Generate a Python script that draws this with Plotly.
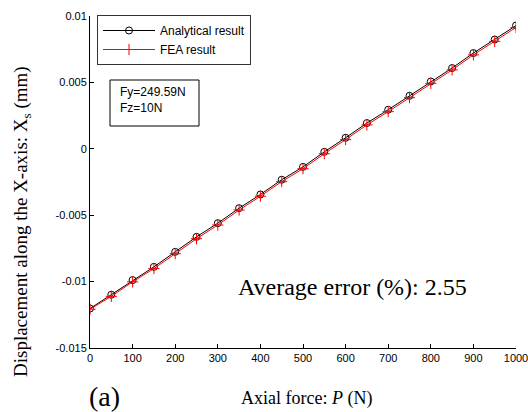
import plotly.graph_objects as go

# Axial force P (N)
axial_force = [0, 50, 100, 150, 200, 250, 300, 350, 400, 450, 500,
               550, 600, 650, 700, 750, 800, 850, 900, 950, 1000]

# Displacement along the X-axis, X_s (mm)
analytical = [-0.01203, -0.01099, -0.00989, -0.00889, -0.00776, -0.00663,
              -0.00560, -0.00447, -0.00344, -0.00233, -0.00136, -0.00023,
              0.00083, 0.00194, 0.00294, 0.00399, 0.00507, 0.00608,
              0.00721, 0.00823, 0.00928]
fea = [-0.01208, -0.01111, -0.01002, -0.00902, -0.00790, -0.00677,
       -0.00574, -0.00461, -0.00357, -0.00247, -0.00150, -0.00037,
       0.00069, 0.00180, 0.00280, 0.00385, 0.00493, 0.00594,
       0.00707, 0.00809, 0.00914]

x_ticks = [0, 100, 200, 300, 400, 500, 600, 700, 800, 900, 1000]
y_ticks = [-0.015, -0.01, -0.005, 0, 0.005, 0.01]
y_tick_text = ["-0.015", "-0.01", "-0.005", "0", "0.005", "0.01"]

SANS = "Liberation Sans, Arial, sans-serif"
SERIF = "Liberation Serif, Times New Roman, serif"

# plot area in pixels
W, H = 528, 412
L, R, T, B = 90, 12, 16, 64
PW, PH = W - L - R, H - T - B


def px(xp):
    return (xp - L) / PW


def py(yp):
    return (H - B - yp) / PH


fig = go.Figure()
fig.add_trace(go.Scatter(
    x=axial_force, y=analytical, mode="lines+markers", name="Analytical result",
    line=dict(color="black", width=1),
    marker=dict(symbol="circle-open", size=7, color="black", line=dict(width=1)),
))
fig.add_trace(go.Scatter(
    x=axial_force, y=fea, mode="lines+markers", name="FEA result",
    line=dict(color="red", width=1),
    marker=dict(symbol="cross-thin-open", size=8, color="red",
                line=dict(width=1, color="red")),
))

axis_common = dict(
    showline=True, linecolor="black", linewidth=1, mirror=False,
    ticks="inside", ticklen=4, tickcolor="black", tickwidth=1,
    showgrid=False, zeroline=False, ticklabeloverflow="allow",
    automargin=False,
    tickfont=dict(family=SANS, size=11, color="black"),
)

fig.update_layout(
    width=W, height=H,
    margin=dict(l=L, r=R, t=T, b=B, autoexpand=False),
    paper_bgcolor="white", plot_bgcolor="white",
    showlegend=True,
    legend=dict(
        x=px(97), y=py(15), xanchor="left", yanchor="top",
        bordercolor="#333333", borderwidth=1, bgcolor="white",
        font=dict(family=SANS, size=12, color="black"),
        itemwidth=52, tracegroupgap=0,
    ),
    xaxis=dict(range=[0, 1000], tickvals=x_ticks, **axis_common),
    yaxis=dict(range=[-0.015, 0.01], tickvals=y_ticks, ticktext=y_tick_text,
               **axis_common),
)

# parameter box
fig.add_shape(type="rect", xref="paper", yref="paper",
              x0=px(110), x1=px(199), y0=py(126), y1=py(80),
              line=dict(color="black", width=1), fillcolor="white")
fig.add_annotation(xref="paper", yref="paper", x=px(118), y=py(100),
                   xanchor="left", yanchor="middle", align="left",
                   text="Fy=249.59N<br>Fz=10N", showarrow=False,
                   font=dict(family=SANS, size=12, color="black"))

# axis titles and labels
fig.add_annotation(xref="paper", yref="paper", x=px(22), y=py(222),
                   xanchor="center", yanchor="middle", textangle=-90,
                   text="Displacement along the X-axis: X<sub>s</sub> (mm)",
                   showarrow=False,
                   font=dict(family=SERIF, size=19, color="black"))
fig.add_annotation(xref="paper", yref="paper", x=px(306), y=py(398),
                   xanchor="center", yanchor="middle",
                   text="Axial force: <i>P</i> (N)", showarrow=False,
                   font=dict(family=SERIF, size=18, color="black"))
fig.add_annotation(xref="paper", yref="paper", x=px(104), y=py(396),
                   xanchor="center", yanchor="middle",
                   text="(a)", showarrow=False,
                   font=dict(family=SERIF, size=28, color="black"))
fig.add_annotation(xref="paper", yref="paper", x=px(352), y=py(287),
                   xanchor="center", yanchor="middle",
                   text="Average error (%): 2.55", showarrow=False,
                   font=dict(family=SERIF, size=24, color="black"))

fig.write_html("out.html")
